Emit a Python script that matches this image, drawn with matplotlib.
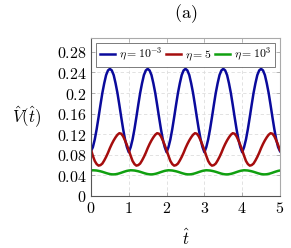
import numpy as np
import matplotlib
matplotlib.use("Agg")
import matplotlib.pyplot as plt

plt.rcParams['mathtext.fontset'] = 'cm'
plt.rcParams['font.family'] = 'serif'
plt.rcParams['font.serif'] = ['DejaVu Serif']

# time axis, step 0.05
t = np.round(np.arange(0, 5.001, 0.05), 3)

# eta = 1e-3
v_blue = [0.087, 0.095, 0.110, 0.130, 0.153, 0.177, 0.200, 0.219, 0.235, 0.244, 0.247, 0.244, 0.235, 0.219, 0.200, 0.177, 0.153, 0.130, 0.110, 0.095,
          0.085, 0.095, 0.110, 0.130, 0.153, 0.177, 0.200, 0.219, 0.235, 0.244, 0.247, 0.244, 0.235, 0.219, 0.200, 0.177, 0.153, 0.130, 0.110, 0.095,
          0.085, 0.095, 0.110, 0.130, 0.153, 0.177, 0.200, 0.219, 0.235, 0.244, 0.247, 0.244, 0.235, 0.219, 0.200, 0.177, 0.153, 0.130, 0.110, 0.095,
          0.085, 0.095, 0.110, 0.130, 0.153, 0.177, 0.200, 0.219, 0.235, 0.244, 0.247, 0.244, 0.235, 0.219, 0.200, 0.177, 0.153, 0.130, 0.110, 0.095,
          0.085, 0.095, 0.110, 0.130, 0.153, 0.177, 0.200, 0.219, 0.235, 0.244, 0.247, 0.244, 0.235, 0.219, 0.200, 0.177, 0.153, 0.130, 0.110, 0.095,
          0.087]
# eta = 5
v_red = [0.090, 0.078, 0.068, 0.062, 0.059, 0.060, 0.063, 0.069, 0.076, 0.084, 0.093, 0.101, 0.108, 0.114, 0.119, 0.122, 0.121, 0.116, 0.108, 0.099,
         0.089, 0.078, 0.068, 0.062, 0.059, 0.060, 0.063, 0.069, 0.076, 0.084, 0.093, 0.101, 0.108, 0.114, 0.119, 0.122, 0.121, 0.116, 0.108, 0.099,
         0.089, 0.078, 0.068, 0.062, 0.059, 0.060, 0.063, 0.069, 0.076, 0.084, 0.093, 0.101, 0.108, 0.114, 0.119, 0.122, 0.121, 0.116, 0.108, 0.099,
         0.089, 0.078, 0.068, 0.062, 0.059, 0.060, 0.063, 0.069, 0.076, 0.084, 0.093, 0.101, 0.108, 0.114, 0.119, 0.122, 0.121, 0.116, 0.108, 0.099,
         0.089, 0.078, 0.068, 0.062, 0.059, 0.060, 0.063, 0.069, 0.076, 0.084, 0.093, 0.101, 0.108, 0.114, 0.119, 0.122, 0.121, 0.116, 0.108, 0.099,
         0.089]
# eta = 1e3
v_green = [0.0495, 0.0500, 0.0498, 0.0495, 0.0488, 0.0480, 0.0470, 0.0458, 0.0446, 0.0435, 0.0426, 0.0421, 0.0420, 0.0423, 0.0430, 0.0440, 0.0452, 0.0465, 0.0477, 0.0488,
           0.0495, 0.0500, 0.0498, 0.0495, 0.0488, 0.0480, 0.0470, 0.0458, 0.0446, 0.0435, 0.0426, 0.0421, 0.0420, 0.0423, 0.0430, 0.0440, 0.0452, 0.0465, 0.0477, 0.0488,
           0.0495, 0.0500, 0.0498, 0.0495, 0.0488, 0.0480, 0.0470, 0.0458, 0.0446, 0.0435, 0.0426, 0.0421, 0.0420, 0.0423, 0.0430, 0.0440, 0.0452, 0.0465, 0.0477, 0.0488,
           0.0495, 0.0500, 0.0498, 0.0495, 0.0488, 0.0480, 0.0470, 0.0458, 0.0446, 0.0435, 0.0426, 0.0421, 0.0420, 0.0423, 0.0430, 0.0440, 0.0452, 0.0465, 0.0477, 0.0488,
           0.0495, 0.0500, 0.0498, 0.0495, 0.0488, 0.0480, 0.0470, 0.0458, 0.0446, 0.0435, 0.0426, 0.0421, 0.0420, 0.0423, 0.0430, 0.0440, 0.0452, 0.0465, 0.0477, 0.0488,
           0.0495]

labels = [r'$\eta = 10^{-3}$', r'$\eta = 5$', r'$\eta = 10^{3}$']
colors = ['#0a0a9c', '#a50d0d', '#10a010']

xticks = [0, 1, 2, 3, 4, 5]
yticks = [0, 0.04, 0.08, 0.12, 0.16, 0.2, 0.24, 0.28]
ytick_labels = ['0', '0.04', '0.08', '0.12', '0.16', '0.2', '0.24', '0.28']

fig = plt.figure(figsize=(2.91, 2.48), dpi=100)
ax = fig.add_axes([0.3127, 0.2097, 0.6495, 0.6371])

for v, lab, c in zip([v_blue, v_red, v_green], labels, colors):
    ax.plot(t, v, color=c, lw=1.8, label=lab)

ax.set_xlim(0, 5)
ax.set_ylim(0, 0.307)
ax.set_xticks(xticks)
ax.set_xticklabels(['$%d$' % x for x in xticks], fontsize=11.5)
ax.set_yticks(yticks)
ax.set_yticklabels(['$%s$' % s for s in ytick_labels], fontsize=11.5)
ax.grid(True, ls=(0, (4, 3)), color='#dddddd', lw=0.6)
ax.tick_params(direction='in', length=3, width=0.5, color='#999999', pad=3,
               top=True, right=True)
for side in ['left', 'bottom']:
    ax.spines[side].set_color('#555555')
for side in ['top', 'right']:
    ax.spines[side].set_color('#aaaaaa')
for s in ax.spines.values():
    s.set_linewidth(0.8)

ax.set_title(r'$\mathrm{(a)}$', fontsize=13, pad=14)
ax.set_xlabel(r'$\hat{t}$', fontsize=12, labelpad=8)
ax.set_ylabel(r'$\hat{V}(\hat{t})$', fontsize=12, rotation=0, labelpad=22, va='center')

leg = ax.legend(loc='upper center', ncol=3, fontsize=8.5, handlelength=1.3,
                handletextpad=0.3, columnspacing=0.3, borderpad=0.3,
                fancybox=False, framealpha=1, edgecolor='#666666',
                bbox_to_anchor=(0.5, 0.985), borderaxespad=0.2)
leg.get_frame().set_linewidth(0.6)

fig.savefig('out.png', dpi=100)
